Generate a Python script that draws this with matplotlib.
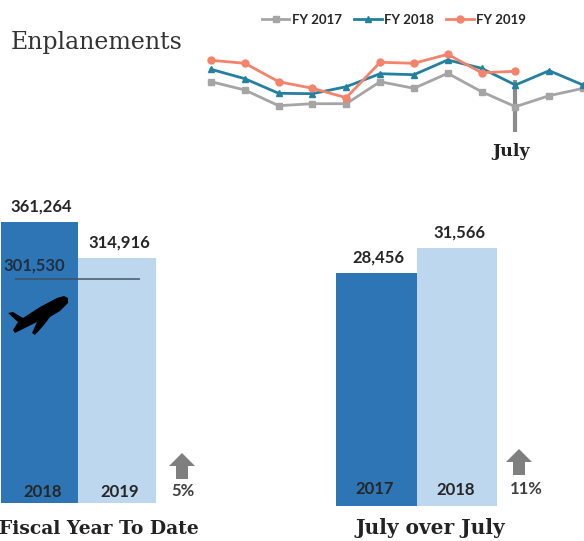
import matplotlib
matplotlib.use("Agg")
import matplotlib.pyplot as plt
from matplotlib.patches import Polygon

W, H = 584, 541

# --- datos ---
fy2017 = [32040, 30850, 28600, 28885, 28885, 32040, 31090, 33240, 30605, 28456, 30030, 31090]
fy2018 = [33815, 32470, 30376, 30320, 31322, 33185, 33040, 35150, 33960, 31566, 33615, 31566]
fy2019 = [35105, 34675, 32040, 31090, 29746, 34820, 34675, 35965, 33330, 33530]
series_names = ["FY 2017", "FY 2018", "FY 2019"]

ytd_years = ["2018", "2019"]
ytd_values = [361264, 314916]
ytd_target = 287700
ytd_target_label = "301,530"
ytd_change = "5%"

july_years = ["2017", "2018"]
july_values = [28456, 31566]
july_change = "11%"

DARK = "#2E75B6"
LIGHT = "#BDD7EE"
GRAY = "#A5A5A5"
TEAL = "#23809F"
CORAL = "#F4836B"
ARROW = "#7F7F7F"
SANS = "Lato"
SERIF = "DejaVu Serif"


def px_axes(left, top, right, bottom):
    a = fig.add_axes([left / W, 1 - bottom / H, (right - left) / W, (bottom - top) / H])
    a.axis("off")
    return a


fig = plt.figure(figsize=(W / 100, H / 100), dpi=100)

# capa en pixeles para textos y formas
ov = px_axes(0, 0, W, H)
ov.set_xlim(0, W)
ov.set_ylim(H, 0)
ov.set_zorder(5)

# -----------------------------------------------------------
# 1) Lineas
# -----------------------------------------------------------
# y: 28456 -> 106.7 px, 143.3 por px; x: mes 0 -> 211 px, 33.82 px por mes
ax = px_axes(194, 40, 584, 140)
ax.set_xlim((194 - 211) / 33.82, (584 - 211) / 33.82)
ax.set_ylim(28456 - (140 - 106.7) * 143.3, 28456 + (106.7 - 40) * 143.3)

ax.vlines(9, 28456 - (132 - 106.7) * 143.3, 28456 + (106.7 - 80) * 143.3, color="#8C8C8C", lw=3, zorder=1)
l1, = ax.plot(range(len(fy2017)), fy2017, color=GRAY, lw=2, marker="s", ms=5, zorder=2)
l2, = ax.plot(range(len(fy2018)), fy2018, color=TEAL, lw=2, marker="^", ms=5, zorder=3)
l3, = ax.plot(range(len(fy2019)), fy2019, color=CORAL, lw=2, marker="o", ms=5, zorder=4)

ov.legend([l1, l2, l3], series_names, ncol=3, frameon=False, loc="center", bbox_to_anchor=(394, 20),
          bbox_transform=ov.transData, prop={"family": SANS, "weight": "bold", "size": 9.5},
          handlelength=2.1, handletextpad=0.2, columnspacing=0.9, labelcolor="#262626")

ov.text(11, 43, "Enplanements", family=SERIF, fontsize=17, color="#333333", ha="left", va="center")
ov.text(511, 151, "July", family=SERIF, weight="bold", fontsize=12.5, color="#222222", ha="center", va="center")

# -----------------------------------------------------------
# 2) Barras
# -----------------------------------------------------------
# desplazamientos de los rotulos en px: valor (x) y anio (x, y)
for box, years, values, val_dx, year_off in [
        ((1, 221.7, 155.5, 503), ytd_years, ytd_values, [2, 2], [(3, 1), (3, 1)]),
        ((336, 248, 497, 506), july_years, july_values, [2.5, 3], [(-2, -5), (-1, -4)])]:
    b = px_axes(*box)
    unit_x = 2 / (box[2] - box[0])
    unit_y = max(values) / (box[3] - box[1])
    b.set_xlim(-0.5, 1.5)
    b.set_ylim(0, max(values))
    b.bar([0, 1], values, width=1, color=[DARK, LIGHT])
    for i, v in enumerate(values):
        b.text(i + val_dx[i] * unit_x, v + 7.5 * unit_y, f"{v:,}", family=SANS, weight="bold", fontsize=12,
               color="#262626", ha="center", va="bottom", clip_on=False)
        b.text(i + year_off[i][0] * unit_x, (12 - year_off[i][1]) * unit_y, years[i], family=SANS, weight="bold",
               fontsize=12, color="#262626", ha="center", va="center")
    if years is ytd_years:
        b.hlines(ytd_target, -0.5 + 14 * unit_x, -0.5 + 139 * unit_x, color="#3F4F5F", lw=1.3, alpha=0.8)
        b.text(-0.5 + 2 * unit_x, ytd_target + 5 * unit_y, ytd_target_label, family=SANS, weight="bold", fontsize=12,
               color="#1F2F3F", ha="left", va="bottom")

# -----------------------------------------------------------
# 3) Avion, flechas y rotulos
# -----------------------------------------------------------
plane = [(68, 298), (68, 303), (60, 311), (50, 317), (44, 325), (35, 335), (32, 333), (37, 322),
         (15, 333), (13, 330), (18, 322), (8, 313), (13, 312), (23, 318), (40, 307), (57, 298), (64, 296)]
ov.add_patch(Polygon(plane, closed=True, color="black", lw=0))

for cx, top, txt, tx, ty in [(182, 453, ytd_change, 182.5, 491), (519, 449, july_change, 526, 489)]:
    arrow = [(cx, top), (cx + 13, top + 13), (cx + 6, top + 13), (cx + 6, top + 26),
             (cx - 6, top + 26), (cx - 6, top + 13), (cx - 13, top + 13)]
    ov.add_patch(Polygon(arrow, closed=True, color=ARROW, lw=0))
    ov.text(tx, ty, txt, family=SANS, weight="bold", fontsize=12, color="#404040", ha="center", va="center")

ov.text(99, 528.5, "Fiscal Year To Date", family=SERIF, weight="bold", fontsize=13.5, color="#222222", ha="center", va="center")
ov.text(430, 528, "July over July", family=SERIF, weight="bold", fontsize=14.5, color="#222222", ha="center", va="center")

fig.savefig("out.png", dpi=100)
